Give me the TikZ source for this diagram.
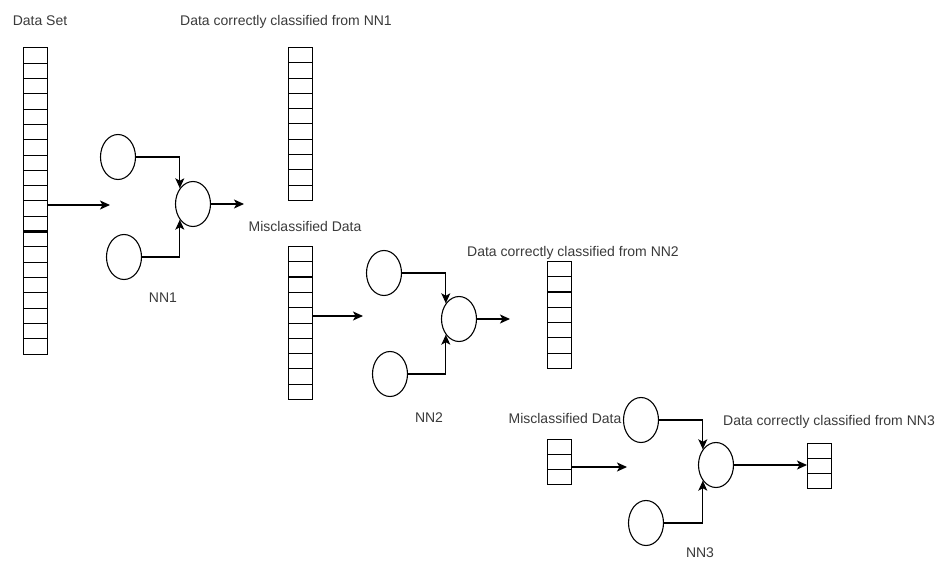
\documentclass[tikz,border=0pt]{standalone}
\usepackage{fontspec}
\setmainfont{Liberation Sans}
\usetikzlibrary{arrows.meta,shapes.geometric}

\tikzset{
  cellcol/.style={draw, line width=1pt, minimum width=24pt, inner sep=0pt, outer sep=0pt},
  neuron/.style={draw, ellipse, line width=1.1pt, minimum width=35pt, minimum height=45pt, inner sep=0pt},
  lbl/.style={text=textgray, inner sep=0pt, anchor=base, font=\fontsize{14}{16}\selectfont},
  link/.style={line width=1.1pt, -{Stealth[length=10pt,width=9pt,inset=2.5pt]}},
}

\begin{document}
\begin{tikzpicture}[x=1pt,y=-1pt]
    \definecolor{textgray}{HTML}{3a3a3a}
    \useasboundingbox (0,0) rectangle (936,561);
    %\draw[help lines,step=50] (0,0) grid (936,561);

    % data columns
    \node[cellcol, minimum height=306pt] (dataset) at (35,201) {};
    \node[cellcol, minimum height=153pt] (correct1) at (300,124) {};
    \node[cellcol, minimum height=153pt] (miscl1) at (300,323) {};
    \node[cellcol, minimum height=107.1pt] (correct2) at (559.5,315) {};
    \node[cellcol, minimum height=45.9pt] (miscl2) at (559.5,462) {};
    \node[cellcol, minimum height=45.9pt] (correct3) at (819,466) {};
    \foreach \col/\n in {dataset/19, correct1/9, miscl1/9, correct2/6, miscl2/2, correct3/2}
        \foreach \i in {1,...,\n}
            \draw[line width=1pt] ([yshift=-\i*15.3pt]\col.north west) -- ([yshift=-\i*15.3pt]\col.north east);
    \draw[line width=2.2pt] ([yshift=-12*15.3pt]dataset.north west) -- ([yshift=-12*15.3pt]dataset.north east);
    \draw[line width=2.2pt] ([yshift=-2*15.3pt]miscl1.north west) -- ([yshift=-2*15.3pt]miscl1.north east);
    \draw[line width=2.2pt] ([yshift=-2*15.3pt]correct2.north west) -- ([yshift=-2*15.3pt]correct2.north east);

    % NN1
    \node[neuron] (t1) at (118,157) {};
    \node[neuron] (b1) at (124,257) {};
    \node[neuron] (m1) at (193,204) {};
    % NN2
    \node[neuron] (t2) at (384,273) {};
    \node[neuron] (b2) at (390,374) {};
    \node[neuron] (m2) at (459,319) {};
    % NN3
    \node[neuron] (t3) at (641,420) {};
    \node[neuron] (b3) at (646,523) {};
    \node[neuron] (m3) at (716,465) {};

    \coordinate (in1) at (110,205);
    \coordinate (out1) at (244,204);
    \coordinate (in2) at (363,316);
    \coordinate (out2) at (510,319);
    \coordinate (in3) at (627,467);

    \draw[link] (dataset.east |- in1) -- (in1);
    \draw[link] (t1.east) -| (m1.130);
    \draw[link] (b1.east) -| (m1.230);
    \draw[link] (m1.east) -- (out1);

    \draw[link] (miscl1.east |- in2) -- (in2);
    \draw[link] (t2.east) -| (m2.130);
    \draw[link] (b2.east) -| (m2.230);
    \draw[link] (m2.east) -- (out2);

    \draw[link] (miscl2.east |- in3) -- (in3);
    \draw[link] (t3.east) -| (m3.130);
    \draw[link] (b3.east) -| (m3.230);
    \draw[link] (m3.east) -- (m3.east -| correct3.west);

    % labels
    \node[lbl] (lset) at (40,26) {Data Set};
    \node[lbl] (lcor1) at (286,26) {Data correctly classified from NN1};
    \node[lbl] (lmis1) at (305,232) {Misclassified Data};
    \node[lbl] (lnn1) at (163,302) {NN1};
    \node[lbl] (lcor2) at (573,256) {Data correctly classified from NN2};
    \node[lbl] (lnn2) at (429,422) {NN2};
    \node[lbl] (lmis2) at (565,423) {Misclassified Data};
    \node[lbl] (lcor3) at (829,425) {Data correctly classified from NN3};
    \node[lbl] (lnn3) at (700,557) {NN3};
\end{tikzpicture}
\end{document}
